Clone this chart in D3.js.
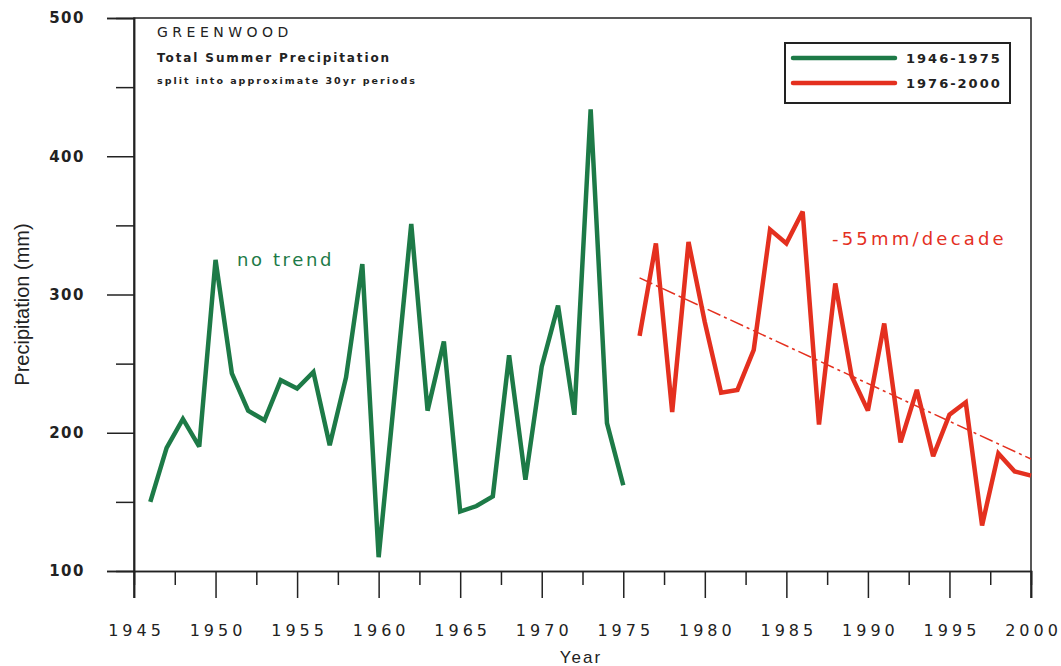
<!DOCTYPE html>
<html>
<head>
<meta charset="utf-8">
<script src="https://cdn.jsdelivr.net/npm/d3@7"></script>
<style>
  body { margin: 0; background: #fff; }
  svg { display: block; }
  text { font-family: "DejaVu Sans", Verdana, sans-serif; fill: #222; }
</style>
</head>
<body>
<div id="chart"></div>
<script>
// data
const periods = ["1946-1975", "1976-2000"];
const startYears = [1946, 1976];
const precipEarly = [150, 189, 210, 190, 325, 243, 216, 209, 238, 232,
  244, 191, 240, 322, 110, 230, 351, 216, 266, 143,
  147, 154, 256, 166, 248, 292, 213, 434, 207, 162];
const precipLate = [270, 337, 215, 338, 280, 229, 231, 260, 347, 337,
  360, 206, 308, 241, 216, 279, 193, 231, 183, 213,
  222, 133, 185, 172, 169];
const trendYears = [1976, 2000];
const trendValues = [312, 181];
const yTicks = [100, 200, 300, 400, 500];
const xTicks = [1945, 1950, 1955, 1960, 1965, 1970, 1975, 1980, 1985, 1990, 1995, 2000];
const titleLines = ["GREENWOOD", "Total Summer Precipitation", "split into approximate 30yr periods"];

// dimensions
const WIDTH = 1061;
const HEIGHT = 666;
const LEFT = 134;
const RIGHT = 1031;
const TOP = 18;
const BOTTOM = 571;
const GREEN = "#1d7a47";
const RED = "#e4301f";

// scales
const scaleX = d3.scaleLinear().domain([1945, 2000]).range([LEFT, RIGHT]);
const scaleY = d3.scaleLinear().domain([100, 500]).range([BOTTOM, TOP]);

const $svg = d3.select("#chart").append("svg")
  .attr("width", WIDTH)
  .attr("height", HEIGHT);

// frame
$svg.append("path")
  .attr("d", `M${LEFT},${BOTTOM + 27} V${TOP} H${RIGHT} V${BOTTOM + 27}`)
  .attr("fill", "none")
  .attr("stroke", "#222")
  .attr("stroke-width", 1.5);

// y axis
const $yAxis = $svg.append("g")
  .attr("transform", `translate(${LEFT},0)`)
  .call(d3.axisLeft(scaleY).tickValues(yTicks).tickSize(27).tickPadding(22).tickFormat(d3.format("d")));
$svg.append("g")
  .attr("transform", `translate(${LEFT},0)`)
  .call(d3.axisLeft(scaleY).tickValues([150, 250, 350, 450]).tickSize(18).tickFormat(""));

// x axis
const $xAxis = $svg.append("g")
  .attr("transform", `translate(0,${BOTTOM})`)
  .call(d3.axisBottom(scaleX).tickValues(xTicks).tickSize(27).tickPadding(27).tickFormat(d3.format("d")));
$svg.append("g")
  .attr("transform", `translate(0,${BOTTOM})`)
  .call(d3.axisBottom(scaleX).tickValues(xTicks.slice(0, -1).map(d => d + 2.5)).tickSize(14).tickFormat(""));

$svg.selectAll(".domain").attr("stroke", "#222").attr("stroke-width", 1.5);
$svg.selectAll(".tick line").attr("stroke", "#222").attr("stroke-width", 1.5);

$yAxis.selectAll(".tick text")
  .attr("font-size", 15)
  .attr("font-weight", "bold")
  .attr("letter-spacing", "1.5px")
  .attr("fill", "#3a3a3a");

$xAxis.selectAll(".tick text")
  .attr("font-size", 16)
  .attr("letter-spacing", "4px")
  .attr("dx", 2)
  .attr("fill", "#222");

// axis titles
$svg.append("text")
  .attr("transform", `translate(29,${(TOP + BOTTOM) / 2 + 10}) rotate(-90)`)
  .attr("text-anchor", "middle")
  .style("font-family", "'Liberation Sans', Arial, sans-serif")
  .attr("font-size", 20)
  .text("Precipitation (mm)");

$svg.append("text")
  .attr("x", 581)
  .attr("y", 663)
  .attr("text-anchor", "middle")
  .style("font-family", "'Liberation Sans', Arial, sans-serif")
  .attr("font-size", 17)
  .attr("letter-spacing", "2px")
  .text("Year");

// title block
const titleStyles = [
  { y: 37, size: 14, weight: "normal", spacing: "4.5px" },
  { y: 62, size: 12, weight: "bold", spacing: "1.9px" },
  { y: 84, size: 9.5, weight: "bold", spacing: "2px" }
];
$svg.selectAll(".title")
  .data(titleLines)
  .join("text")
  .attr("class", "title")
  .attr("x", 157)
  .attr("y", (d, i) => titleStyles[i].y)
  .attr("font-size", (d, i) => titleStyles[i].size)
  .attr("font-weight", (d, i) => titleStyles[i].weight)
  .attr("letter-spacing", (d, i) => titleStyles[i].spacing)
  .text(d => d);

// series
const series = [precipEarly, precipLate].map((values, i) => ({
  name: periods[i],
  color: i === 0 ? GREEN : RED,
  values: values.map((v, j) => ({ year: startYears[i] + j, v }))
}));

const line = d3.line()
  .x(d => scaleX(d.year))
  .y(d => scaleY(d.v));

$svg.selectAll(".series")
  .data(series)
  .join("path")
  .attr("class", "series")
  .attr("d", d => line(d.values))
  .attr("fill", "none")
  .attr("stroke", d => d.color)
  .attr("stroke-width", 4.5)
  .attr("stroke-linejoin", "miter")
  .attr("stroke-miterlimit", 3);

// trend line
$svg.append("path")
  .attr("d", line(trendYears.map((year, i) => ({ year, v: trendValues[i] }))))
  .attr("fill", "none")
  .attr("stroke", RED)
  .attr("stroke-width", 1.5)
  .attr("stroke-dasharray", "14,4,3,4");

// annotations
$svg.append("text")
  .attr("x", 237)
  .attr("y", 266)
  .attr("font-size", 18)
  .attr("letter-spacing", "2.6px")
  .style("fill", GREEN)
  .text("no trend");

$svg.append("text")
  .attr("x", 832)
  .attr("y", 245)
  .attr("font-size", 18)
  .attr("letter-spacing", "3.2px")
  .style("fill", RED)
  .text("-55mm/decade");

// legend
const $legend = $svg.append("g").attr("transform", "translate(785,43)");
$legend.append("rect")
  .attr("width", 225)
  .attr("height", 60)
  .attr("fill", "#fff")
  .attr("stroke", "#222")
  .attr("stroke-width", 2);

const $item = $legend.selectAll(".item")
  .data(series)
  .join("g")
  .attr("class", "item")
  .attr("transform", (d, i) => `translate(0,${15 + i * 25})`);

$item.append("line")
  .attr("x1", 8)
  .attr("x2", 110)
  .attr("stroke", d => d.color)
  .attr("stroke-width", 4.5)
  .attr("stroke-linecap", "round");

$item.append("text")
  .attr("x", 121)
  .attr("y", 5)
  .attr("font-size", 13)
  .attr("font-weight", "bold")
  .attr("letter-spacing", "2px")
  .text(d => d.name);
</script>
</body>
</html>
